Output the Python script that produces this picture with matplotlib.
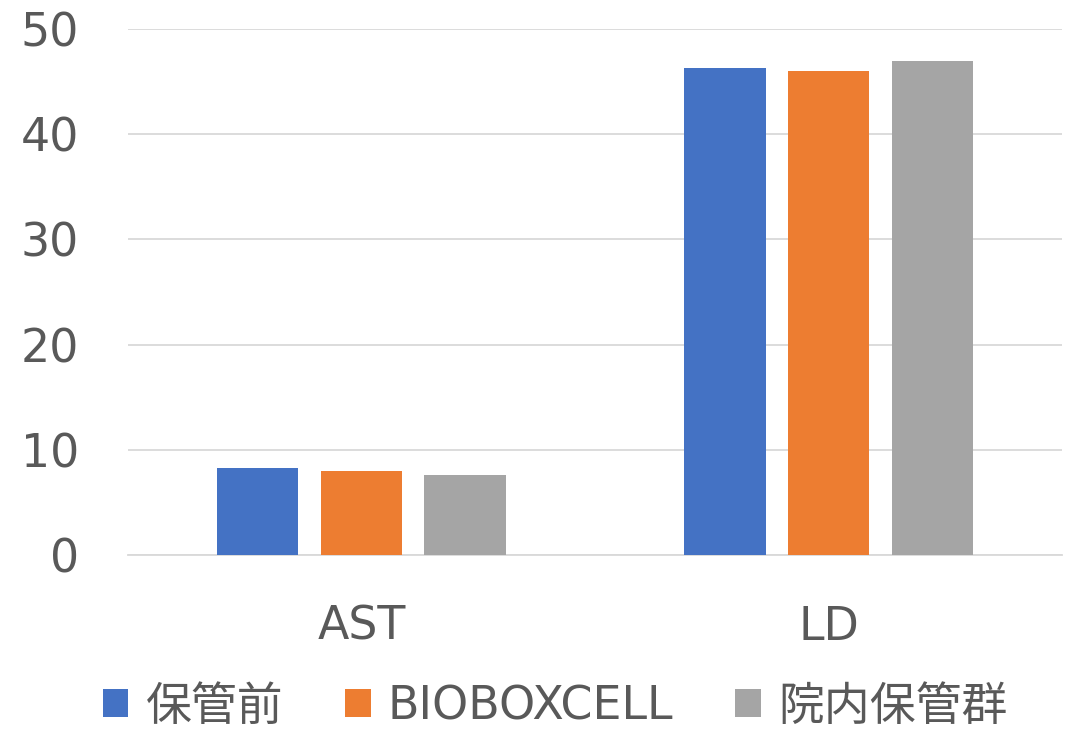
import matplotlib.pyplot as plt
import numpy as np

plt.rcParams['font.family'] = ['DejaVu Sans', 'Noto Sans CJK JP']

# データ
categories = ['AST', 'LD']
series_names = ['保管前', 'BIOBOXCELL', '院内保管群']
before_storage = [8.3, 46.3]
bioboxcell = [8.0, 46.0]
hospital_storage = [7.6, 47.0]
colors = ['#4472C4', '#ED7D31', '#A5A5A5']

text_color = '#595959'
grid_color = '#D9D9D9'

fig = plt.figure(figsize=(10.74, 7.29), dpi=100)
ax = fig.add_axes([0.119, 0.239, 0.870, 0.721])

x = np.arange(len(categories))
step = 0.222
width = 0.174
for i, (vals, name, c) in enumerate(zip([before_storage, bioboxcell, hospital_storage],
                                        series_names, colors)):
    ax.bar(x + (i - 1) * step, vals, width=width, color=c, label=name, zorder=3)

ax.set_xlim(-0.5, 1.5)
ax.set_ylim(0, 50)
ax.set_yticks(np.arange(0, 51, 10))
ax.set_xticks(x)
ax.set_xticklabels(categories)

ax.grid(axis='y', color=grid_color, linewidth=1.3, zorder=0)
for s in ['top', 'right', 'left']:
    ax.spines[s].set_visible(False)
ax.spines['bottom'].set_color(grid_color)
ax.spines['bottom'].set_linewidth(1.3)

ax.tick_params(axis='y', length=0, pad=35, labelsize=33, labelcolor=text_color)
ax.tick_params(axis='x', length=0, pad=36, labelsize=33, labelcolor=text_color)

fig.legend(loc='center', bbox_to_anchor=(0.517, 1 - 707 / 729), ncol=3, frameon=False,
           fontsize=33, labelcolor=text_color, handlelength=0.55, handleheight=0.55,
           handletextpad=0.38, columnspacing=1.35)

plt.savefig('out.png', dpi=100)
